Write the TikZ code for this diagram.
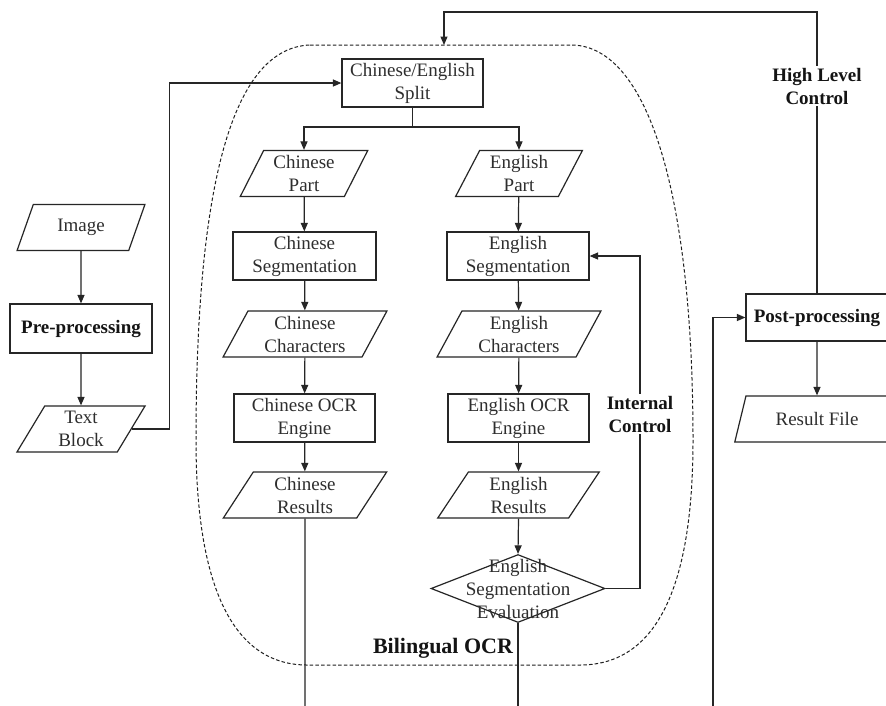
\documentclass[tikz,border=0pt]{standalone}
\usepackage{fontspec}
\setmainfont{Liberation Serif}
\usetikzlibrary{shapes.geometric,arrows.meta}
\tikzset{
  ln/.style={draw=black!85, line width=1.2pt},
  arr/.style={ln, -{Triangle[length=8.5pt,width=7pt]}},
  txt/.style={text=black!82, font=\fontsize{19}{23}\selectfont, align=center},
  boxn/.style={txt, rectangle, draw=black!85, line width=1.2pt, inner sep=1pt, minimum width=#1, minimum height=48},
  paran/.style={txt, trapezium, trapezium left angle=64, trapezium right angle=116,
     trapezium stretches=true, draw=black!85, line width=1.2pt, inner sep=0pt,
     minimum width=#1, minimum height=46},
  lbl/.style={text=black!92, font=\fontsize{19}{23}\selectfont\bfseries, align=center, fill=white, inner sep=2pt},
}
\begin{document}
\begin{tikzpicture}[x=1pt, y=-1pt]
\useasboundingbox (0,0) rectangle (886,705);
\clip (0,0) rectangle (886,705);
\fill[white] (0,0) rectangle (886,705);

% Bilingual OCR region
\draw[black!88, line width=1pt, dash pattern=on 3.5pt off 2.2pt]
  (310,45) -- (573,45) .. controls (650,48) and (693,200) .. (693,440)
  .. controls (693,600) and (650,665) .. (580,665) -- (307,665)
  .. controls (240,665) and (196,600) .. (196,440)
  .. controls (196,200) and (228,48) .. (310,45) -- cycle;
\node[text=black!92, font=\fontsize{22}{26}\selectfont\bfseries] (bil) at (443,648) {Bilingual OCR};

% left column
\node[paran=128] (img) at (81,227.5) {Image};
\node[boxn=142, font=\fontsize{19}{23}\selectfont\bfseries, text=black!92, minimum height=49] (pre) at (81,328.5) {Pre-processing};
\node[paran=129] (tb) at (81,429) {Text\\Block};

% split
\node[boxn=141] (split) at (412.5,83) {Chinese/English\\Split};

% Chinese column
\node[paran=128] (cp) at (304,173.5) {Chinese\\Part};
\node[boxn=143] (cs) at (304.5,256) {Chinese\\Segmentation};
\node[paran=164] (cc) at (305,334) {Chinese\\Characters};
\node[boxn=141] (co) at (304.5,418) {Chinese OCR\\Engine};
\node[paran=164] (cr) at (305,495) {Chinese\\Results};

% English column
\node[paran=128] (ep) at (519,173.5) {English\\Part};
\node[boxn=142] (es) at (518,256) {English\\Segmentation};
\node[paran=164] (ec) at (519,334) {English\\Characters};
\node[boxn=141] (eo) at (518.5,418) {English OCR\\Engine};
\node[paran=163] (er) at (518.5,495) {English\\Results};
\node[diamond, draw=black!85, line width=1.2pt, inner sep=0pt, minimum width=174, minimum height=68] (dia) at (518,588.5) {};
\node[txt] (diat) at (dia.center) {English\\Segmentation\\Evaluation};

% right column
\node[boxn=142, font=\fontsize{19}{23}\selectfont\bfseries, text=black!92, minimum height=47] (post) at (817,317.5) {Post-processing};
\node[paran=165] (rf) at (817,419) {Result File};

% coordinates
\coordinate (sb) at (412.5,127);
\coordinate (ocrtop) at (444,45);
\coordinate (ht) at (817,12);
\coordinate (crend) at (305,710);
\coordinate (diaend) at (518,710);
\coordinate (pin) at (713,710);
\coordinate (ic) at (640,588.5);

% connectors
\draw[arr] (img) -- (pre);
\draw[arr] (pre) -- (tb);
\draw[arr] (tb.east) -- ++(38,0) |- (split.west);
\draw[ln] (split.south) -- (sb);
\draw[arr] (sb) -| (cp.north);
\draw[arr] (sb) -| (ep.north);
\draw[arr] (cp) -- (cs);
\draw[arr] (cs) -- (cc);
\draw[arr] (cc) -- (co);
\draw[arr] (co) -- (cr);
\draw[ln] (cr.south) -- (crend);
\draw[arr] (ep) -- (es);
\draw[arr] (es) -- (ec);
\draw[arr] (ec) -- (eo);
\draw[arr] (eo) -- (er);
\draw[arr] (er.south) -- (dia.north);
\draw[ln] (dia.south) -- (diaend);
\draw[arr] (dia.east) -- (ic) |- (es.east);
\draw[arr] (pin) |- (post.west);
\draw[arr] (post) -- (rf);
\draw[arr] (post.north) -- (ht) -| (ocrtop);

% labels on lines
\node[lbl] (intc) at (640,414) {Internal\\Control};
\node[lbl] (hlc) at (817,86) {High Level\\Control};
\end{tikzpicture}
\end{document}
